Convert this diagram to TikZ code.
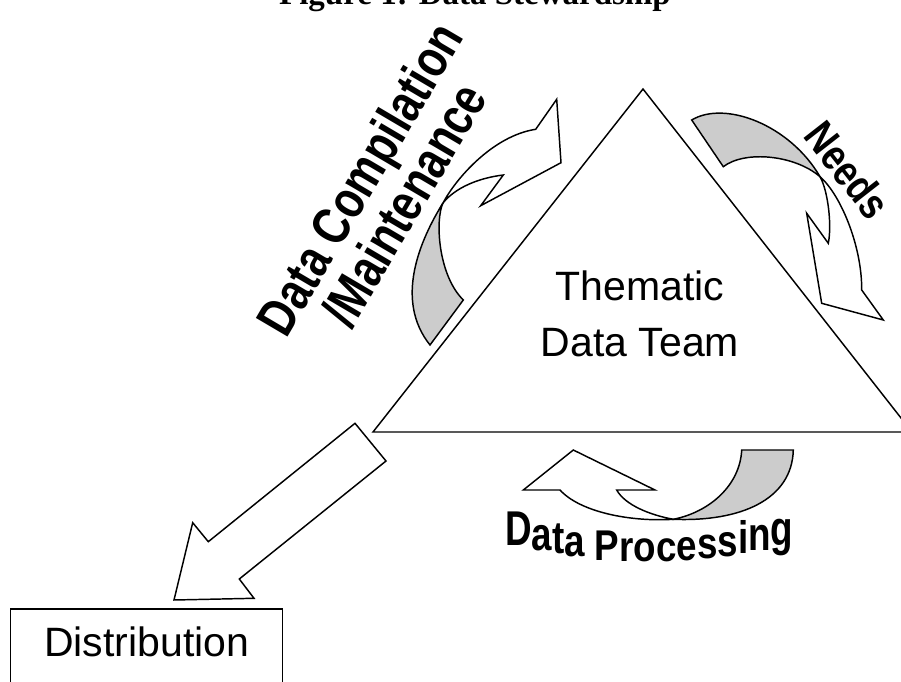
\documentclass[tikz,border=0pt]{standalone}
\usepackage{fontspec}
\setmainfont{Liberation Sans}
\newfontfamily\titlefont{Liberation Serif}
\begin{document}
\begin{tikzpicture}[x=0.75pt,y=-0.75pt,
  outline/.style={draw=black, line width=1.1pt},
  ribbon/.style={fill=black!20, draw=black, line width=1.1pt},
  plain/.style={fill=white, draw=black, line width=1.1pt},
  lbl/.style={font=\fontsize{30.75}{36}\selectfont, inner sep=0pt},
  wa/.style={font=\bfseries\fontsize{32}{36}\selectfont, inner sep=0pt},
  dp/.style={font=\bfseries\fontsize{27.6}{32}\selectfont, inner sep=0pt},
]
\useasboundingbox (0,0) rectangle (901,682);

% title (cut off by the top edge)
\node[font=\titlefont\bfseries\fontsize{24.75}{28}\selectfont, anchor=base, inner sep=0pt] (title) at (475,4) {Figure 1: Data Stewardship};

% triangle
\coordinate (tl) at (373,432);
\coordinate (tt) at (643,89);
\coordinate (tr) at (912,432);
\draw[outline] (tl) -- (tt) -- (tr) -- cycle;
\node[lbl, anchor=base] (them1) at (640,300) {Thematic};
\node[lbl, anchor=base] (them2) at (640,356) {Data Team};

% left curved arrow (Data Compilation / Maintenance)
\coordinate (A) at (535.7,129.3);
\coordinate (B1) at (556.7,99.3);
\coordinate (T) at (561,162.7);
\coordinate (B2) at (480.7,205.7);
\coordinate (D) at (503.3,175);
\coordinate (X) at (443,203);
\coordinate (E) at (430,345);
\coordinate (F) at (463.3,300);
\draw[ribbon] (X) .. controls (420,240) and (394,300) .. (E) -- (F) .. controls (438,275) and (435,220) .. (X) -- cycle;
\draw[plain] (X) .. controls (455,180) and (492,136) .. (A) -- (B1) -- (T) -- (B2) -- (D) .. controls (478,178) and (455,188) .. (X) -- cycle;

% right curved arrow (Needs)
\coordinate (G1) at (691.7,120);
\coordinate (G2) at (723.3,166.7);
\coordinate (X2) at (820,176.7);
\coordinate (S1) at (861.7,290);
\coordinate (Bo) at (883.3,320);
\coordinate (Tn) at (821.7,303.3);
\coordinate (Bi) at (806.7,213.3);
\coordinate (S2) at (828.3,243.3);
\draw[ribbon] (G1) .. controls (725,100) and (790,125) .. (X2) .. controls (795,155) and (745,150) .. (G2) -- cycle;
\draw[plain] (X2) .. controls (840,194) and (862,245) .. (S1) -- (Bo) -- (Tn) -- (Bi) -- (S2) .. controls (832,225) and (828,190.7) .. (X2) -- cycle;

% bottom curved arrow (Data Processing)
\coordinate (X3) at (673.3,519.3);
\coordinate (O) at (560,490);
\coordinate (I) at (616.7,490);
\coordinate (Bl) at (523.3,490);
\coordinate (Tp) at (573.3,450);
\coordinate (Br) at (655,490);
\coordinate (L) at (741.7,450);
\coordinate (R) at (793.3,450);
\draw[ribbon] (X3) .. controls (740,522) and (792,500) .. (R) -- (L) .. controls (740,485) and (710,512) .. (X3) -- cycle;
\draw[plain] (X3) .. controls (630,522) and (580,512) .. (O) -- (Bl) -- (Tp) -- (Br) -- (I) .. controls (625,505) and (650,515) .. (X3) -- cycle;

% distribution block arrow
\draw[plain] (355,423.3) -- (386,461) -- (239.3,579) -- (254,598.3) -- (174,600) -- (192.7,522.7) -- (208.3,541.7) -- cycle;

% distribution box
\node[draw=black, line width=1.1pt, minimum width=204pt, minimum height=75pt, anchor=north, inner sep=0pt] (distbox) at (146.7,608.3) {};
\node[lbl, anchor=base] (disttext) at (146.7,656) {Distribution};

% WordArt-like labels
\node[wa, rotate=59.5, yscale=1.25, anchor=base] (dc1) at (376,188) {Data Compilation};
\node[wa, rotate=59.5, yscale=1.25, anchor=base] (dc2) at (420,214) {/Maintenance};
\node[font=\bfseries\fontsize{27}{30}\selectfont, rotate=-52, yscale=1.2, inner sep=0pt] (needs) at (848,170) {Needs};

\foreach \ch/\xx/\w [count=\k] in {D/505/26.6, a/531.6/20.5, t/552.1/12.25, a/564.3/20.5, P/595/24.5, r/619.6/14.3, o/633.9/22.5, c/656.4/20.5, e/676.8/20.5, s/697.3/20.5, s/717.7/20.5, i/738.2/10.2, n/748.4/22.5, g/770.9/22.5} {
  \pgfmathsetmacro\u{(\xx+\w/2-650)/140}
  \pgfmathsetmacro\yb{562-19*\u*\u}
  \pgfmathsetmacro\ys{1.15+0.2*\u*\u}
  \node[dp, yscale=\ys, anchor=base] (dp\k) at ({\xx+\w/2},\yb) {\ch};
}
\end{tikzpicture}
\end{document}
